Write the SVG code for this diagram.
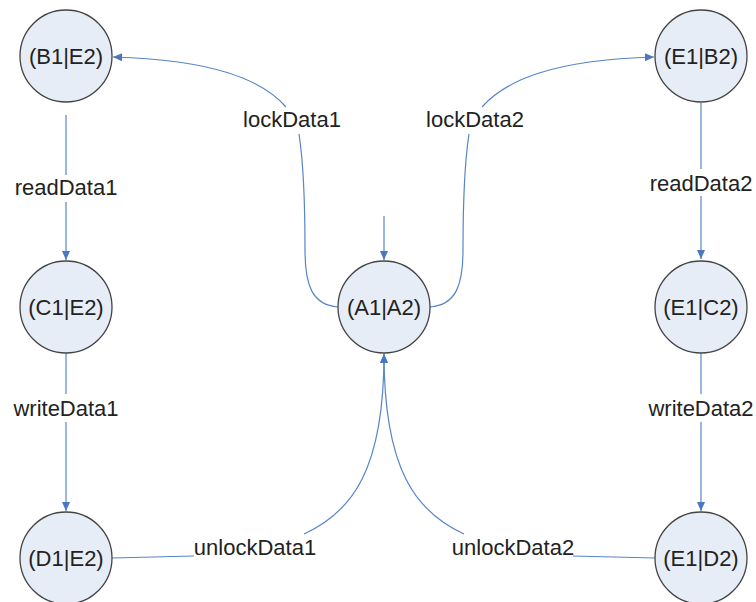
<svg xmlns="http://www.w3.org/2000/svg" width="756" height="602" viewBox="0 0 756 602">
  <style>
    .node circle { fill: #e7edf7; stroke: #444444; stroke-width: 1.3; }
    .node text { font-family: "Liberation Sans", Arial, sans-serif; font-size: 22px; fill: #222222; text-anchor: middle; }
    .edge { fill: none; stroke: #5585c8; stroke-width: 1.2; }
    .label { font-family: "Liberation Sans", Arial, sans-serif; font-size: 22px; fill: #222222; text-anchor: middle; }
  </style>
  <defs>
    <marker id="arrow" markerUnits="userSpaceOnUse" markerWidth="10" markerHeight="9" refX="9" refY="4" orient="auto">
      <path d="M0,0 L9,4 L0,8 Z" fill="#4a78c0"/>
    </marker>
  </defs>
  <rect width="756" height="602" fill="#ffffff"/>

  <g id="connectors">
    <!-- initial transition into (A1|A2) -->
    <path class="edge" d="M384,216 L384,260" marker-end="url(#arrow)"/>

    <!-- lockData1: (A1|A2) -> (B1|E2) -->
    <path class="edge" d="M338,307 C312,305 305,285 305,250 C305,200 303,160 299,134"/>
    <path class="edge" d="M286,107 C262,80 215,60 113,57" marker-end="url(#arrow)"/>

    <!-- lockData2: (A1|A2) -> (E1|B2) -->
    <path class="edge" d="M430,307 C456,305 463,285 463,250 C463,200 465,160 469,134"/>
    <path class="edge" d="M482,107 C506,80 553,60 654,57" marker-end="url(#arrow)"/>

    <!-- readData1 -->
    <path class="edge" d="M66,115 L66,175"/>
    <path class="edge" d="M66,202 L66,260" marker-end="url(#arrow)"/>

    <!-- writeData1 -->
    <path class="edge" d="M66,353 L66,394"/>
    <path class="edge" d="M66,422 L66,511" marker-end="url(#arrow)"/>

    <!-- readData2 -->
    <path class="edge" d="M701,103 L701,169"/>
    <path class="edge" d="M701,196 L701,259" marker-end="url(#arrow)"/>

    <!-- writeData2 -->
    <path class="edge" d="M701,353 L701,394"/>
    <path class="edge" d="M701,422 L701,511" marker-end="url(#arrow)"/>

    <!-- unlockData1: (D1|E2) -> (A1|A2) -->
    <path class="edge" d="M112,558 L194,556"/>
    <path class="edge" d="M304,534 C352,512 384,470 384,354" marker-end="url(#arrow)"/>

    <!-- unlockData2: (E1|D2) -> (A1|A2) -->
    <path class="edge" d="M655,558 L573,556"/>
    <path class="edge" d="M464,534 C416,512 384,470 384,354" marker-end="url(#arrow)"/>

    <text class="label" x="292" y="127">lockData1</text>
    <text class="label" x="475" y="127">lockData2</text>
    <text class="label" x="66" y="195">readData1</text>
    <text class="label" x="701" y="191">readData2</text>
    <text class="label" x="66" y="416">writeData1</text>
    <text class="label" x="701" y="416">writeData2</text>
    <text class="label" x="255" y="555">unlockData1</text>
    <text class="label" x="513" y="555">unlockData2</text>
  </g>

  <g id="node-B1E2" class="node">
    <circle cx="66" cy="56" r="46"/>
    <text x="66" y="64">(B1|E2)</text>
  </g>
  <g id="node-C1E2" class="node">
    <circle cx="66" cy="307" r="46"/>
    <text x="66" y="315">(C1|E2)</text>
  </g>
  <g id="node-D1E2" class="node">
    <circle cx="66" cy="558" r="46"/>
    <text x="66" y="566">(D1|E2)</text>
  </g>
  <g id="node-A1A2" class="node">
    <circle cx="384" cy="307" r="46"/>
    <text x="384" y="315">(A1|A2)</text>
  </g>
  <g id="node-E1B2" class="node">
    <circle cx="701" cy="56" r="46"/>
    <text x="701" y="64">(E1|B2)</text>
  </g>
  <g id="node-E1C2" class="node">
    <circle cx="701" cy="307" r="46"/>
    <text x="701" y="315">(E1|C2)</text>
  </g>
  <g id="node-E1D2" class="node">
    <circle cx="701" cy="558" r="46"/>
    <text x="701" y="566">(E1|D2)</text>
  </g>
</svg>
